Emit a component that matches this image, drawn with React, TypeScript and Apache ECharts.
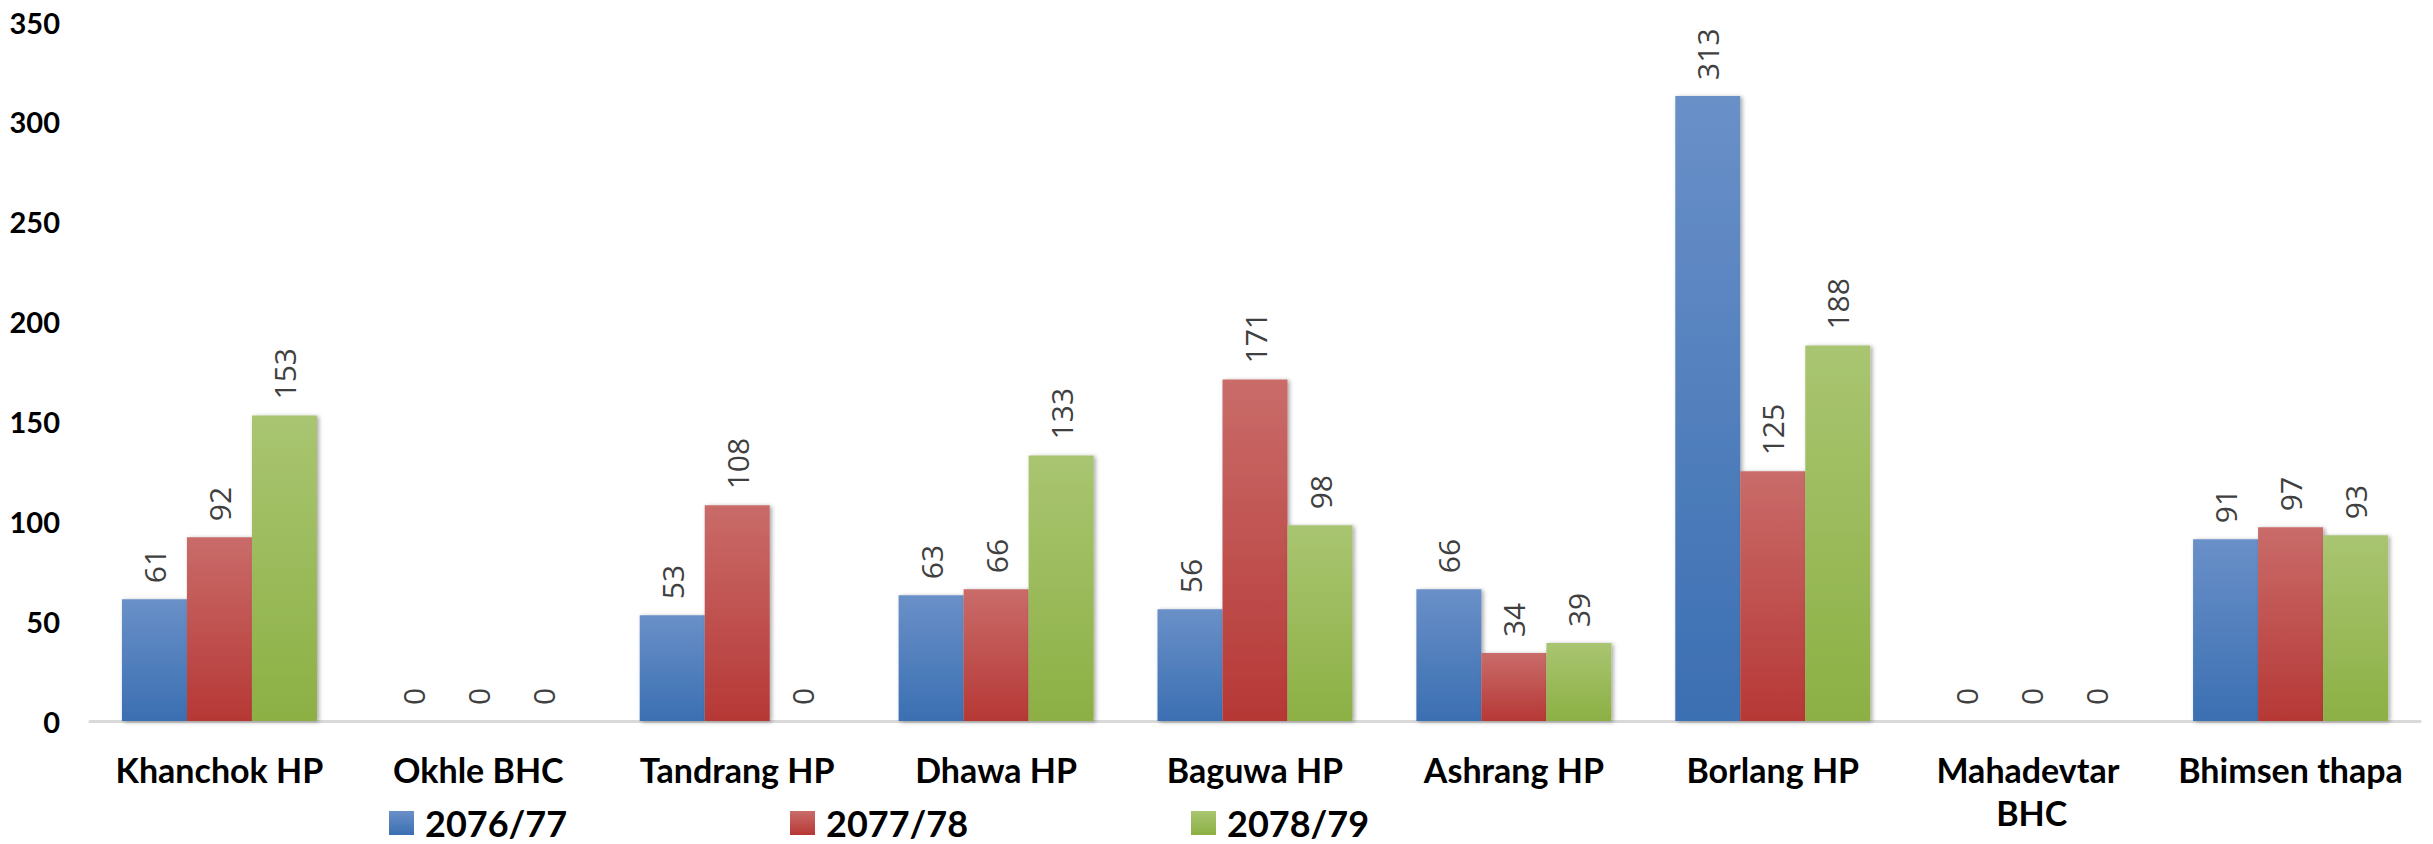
import React, { useEffect, useRef } from "react";
import * as echarts from "echarts";

const categories = [
  "Khanchok HP",
  "Okhle BHC",
  "Tandrang HP",
  "Dhawa HP",
  "Baguwa HP",
  "Ashrang HP",
  "Borlang HP",
  "Mahadevtar BHC",
  "Bhimsen thapa",
];
const seriesNames = ["2076/77", "2077/78", "2078/79"];
const values2076 = [61, 0, 53, 63, 56, 66, 313, 0, 91];
const values2077 = [92, 0, 108, 66, 171, 34, 125, 0, 97];
const values2078 = [153, 0, 0, 133, 98, 39, 188, 0, 93];
const yTicks = { min: 0, max: 350, interval: 50 };

const gradients: [string, string][] = [
  ["#6a90c8", "#3b6fb2"],
  ["#c96c6a", "#b63835"],
  ["#a9c571", "#8cb044"],
];

export default function App() {
  const ref = useRef<HTMLDivElement>(null);
  useEffect(() => {
    if (!ref.current) return;
    const chart = echarts.init(ref.current, undefined, { renderer: "svg" });
    const all = [values2076, values2077, values2078];
    const series = all.map((vals, i) => ({
      name: seriesNames[i],
      type: "bar",
      data: vals,
      barWidth: 65,
      barGap: "0%",
      itemStyle: {
        color: new echarts.graphic.LinearGradient(0, 0, 0, 1, [
          { offset: 0, color: gradients[i][0] },
          { offset: 1, color: gradients[i][1] },
        ]),
        shadowColor: "rgba(0,0,0,0.35)",
        shadowBlur: 4,
        shadowOffsetX: 2,
        shadowOffsetY: 1,
      },
      label: {
        show: true,
        position: "top",
        rotate: 90,
        align: "left",
        verticalAlign: "middle",
        distance: 16,
        color: "#404040",
        fontSize: 30,
        fontFamily: "'Liberation Sans Narrow', 'Open Sans', sans-serif",
      },
    }));
    chart.setOption({
      animation: false,
      backgroundColor: "#ffffff",
      grid: { left: 90, right: 13, top: 22, bottom: 123, containLabel: false },
      legend: {
        data: seriesNames,
        left: 389,
        top: 805,
        padding: 0,
        itemWidth: 25,
        itemHeight: 24,
        itemGap: 220,
        icon: "rect",
        textStyle: {
          fontFamily: "Lato, sans-serif",
          fontWeight: "bold",
          fontSize: 36,
          lineHeight: 34,
          color: "#000000",
          width: 145,
          padding: [0, 0, 0, 6],
        },
      },
      xAxis: {
        type: "category",
        data: categories,
        axisLine: { lineStyle: { color: "#d9d9d9", width: 3 } },
        axisTick: { show: false },
        axisLabel: {
          interval: 0,
          margin: 27,
          color: "#000000",
          fontFamily: "Lato, sans-serif",
          fontWeight: "bold",
          fontSize: 34,
          lineHeight: 43,
          width: 238,
          overflow: "break",
        },
      },
      yAxis: {
        type: "value",
        min: yTicks.min,
        max: yTicks.max,
        interval: yTicks.interval,
        axisLine: { show: false },
        axisTick: { show: false },
        splitLine: { show: false },
        axisLabel: {
          margin: 30,
          color: "#000000",
          fontFamily: "Lato, sans-serif",
          fontWeight: "bold",
          fontSize: 29,
        },
      },
      series,
    });
    return () => chart.dispose();
  }, []);
  return (
    <div
      ref={ref}
      style={{ position: "fixed", left: 0, top: 0, width: 2433, height: 844, background: "#fff" }}
    />
  );
}
